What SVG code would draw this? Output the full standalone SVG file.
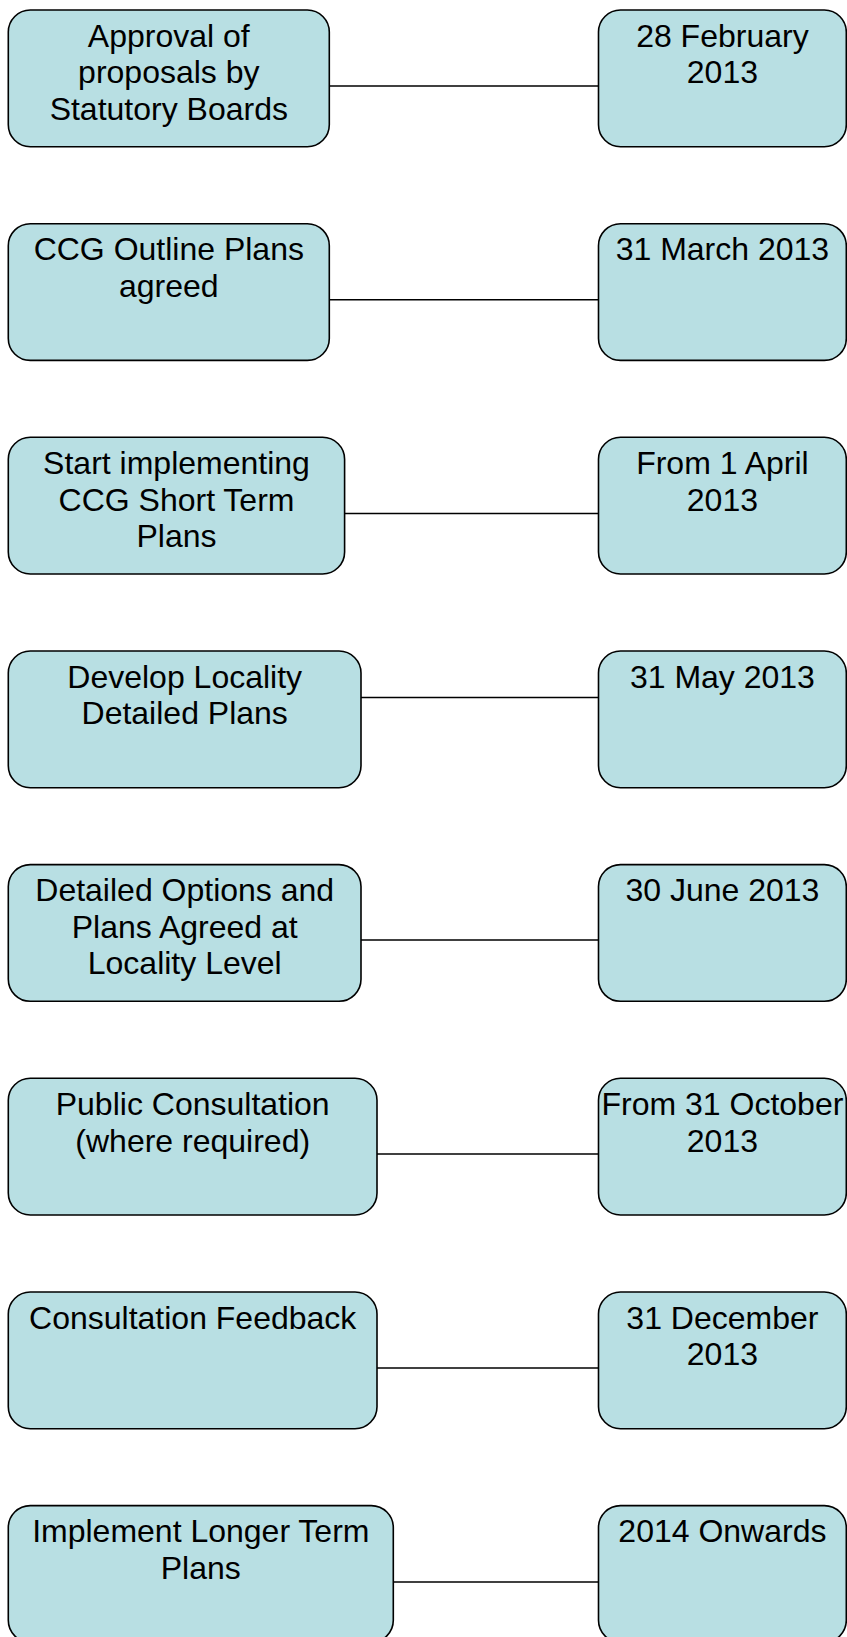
<svg xmlns="http://www.w3.org/2000/svg" width="847" height="1637" viewBox="0 0 847 1637">
<defs>
<style>
.box{fill:#b8dfe3;stroke:#000;stroke-width:1.6}
.t{font-family:"Liberation Sans",Arial,sans-serif;font-size:32px;fill:#000;text-anchor:middle}
.c line{stroke:#000;stroke-width:1.6}
</style>
</defs>
<rect width="847" height="1637" fill="#fff"/>
<g class="c" id="connectors">
<line x1="329.3" y1="86" x2="598.5" y2="86"/>
<line x1="329.3" y1="299.7" x2="598.5" y2="299.7"/>
<line x1="344.6" y1="513.5" x2="598.5" y2="513.5"/>
<line x1="361" y1="697.5" x2="598.5" y2="697.5"/>
<line x1="361" y1="940" x2="598.5" y2="940"/>
<line x1="377" y1="1154" x2="598.5" y2="1154"/>
<line x1="377" y1="1368" x2="598.5" y2="1368"/>
<line x1="393.3" y1="1582" x2="598.5" y2="1582"/>
</g>
<g id="n1"><rect class="box" x="8.3" y="10" width="321" height="136.7" rx="22"/>
<text class="t" x="168.8" y="46.7">Approval of</text><text class="t" x="168.8" y="83.2">proposals by</text><text class="t" x="168.8" y="119.7">Statutory Boards</text></g>
<g id="d1"><rect class="box" x="598.5" y="10" width="247.8" height="136.7" rx="22"/>
<text class="t" x="722.4" y="46.7">28 February</text><text class="t" x="722.4" y="83.2">2013</text></g>
<g id="n2"><rect class="box" x="8.3" y="223.7" width="321" height="136.7" rx="22"/>
<text class="t" x="168.8" y="260.4">CCG Outline Plans</text><text class="t" x="168.8" y="296.9">agreed</text></g>
<g id="d2"><rect class="box" x="598.5" y="223.7" width="247.8" height="136.7" rx="22"/>
<text class="t" x="722.4" y="260.4">31 March 2013</text></g>
<g id="n3"><rect class="box" x="8.3" y="437.3" width="336.3" height="136.7" rx="22"/>
<text class="t" x="176.5" y="474">Start implementing</text><text class="t" x="176.5" y="510.5">CCG Short Term</text><text class="t" x="176.5" y="547">Plans</text></g>
<g id="d3"><rect class="box" x="598.5" y="437.3" width="247.8" height="136.7" rx="22"/>
<text class="t" x="722.4" y="474">From 1 April</text><text class="t" x="722.4" y="510.5">2013</text></g>
<g id="n4"><rect class="box" x="8.3" y="651" width="352.7" height="136.7" rx="22"/>
<text class="t" x="184.7" y="687.7">Develop Locality</text><text class="t" x="184.7" y="724.2">Detailed Plans</text></g>
<g id="d4"><rect class="box" x="598.5" y="651" width="247.8" height="136.7" rx="22"/>
<text class="t" x="722.4" y="687.7">31 May 2013</text></g>
<g id="n5"><rect class="box" x="8.3" y="864.6" width="352.7" height="136.7" rx="22"/>
<text class="t" x="184.7" y="901.3">Detailed Options and</text><text class="t" x="184.7" y="937.8">Plans Agreed at</text><text class="t" x="184.7" y="974.3">Locality Level</text></g>
<g id="d5"><rect class="box" x="598.5" y="864.6" width="247.8" height="136.7" rx="22"/>
<text class="t" x="722.4" y="901.3">30 June 2013</text></g>
<g id="n6"><rect class="box" x="8.3" y="1078.3" width="368.7" height="136.7" rx="22"/>
<text class="t" x="192.7" y="1115">Public Consultation</text><text class="t" x="192.7" y="1151.5">(where required)</text></g>
<g id="d6"><rect class="box" x="598.5" y="1078.3" width="247.8" height="136.7" rx="22"/>
<text class="t" x="722.4" y="1115">From 31 October</text><text class="t" x="722.4" y="1151.5">2013</text></g>
<g id="n7"><rect class="box" x="8.3" y="1292" width="368.7" height="136.7" rx="22"/>
<text class="t" x="192.7" y="1328.7">Consultation Feedback</text></g>
<g id="d7"><rect class="box" x="598.5" y="1292" width="247.8" height="136.7" rx="22"/>
<text class="t" x="722.4" y="1328.7">31 December</text><text class="t" x="722.4" y="1365.2">2013</text></g>
<g id="n8"><rect class="box" x="8.3" y="1505.6" width="385" height="136.7" rx="22"/>
<text class="t" x="200.8" y="1542.3">Implement Longer Term</text><text class="t" x="200.8" y="1578.8">Plans</text></g>
<g id="d8"><rect class="box" x="598.5" y="1505.6" width="247.8" height="136.7" rx="22"/>
<text class="t" x="722.4" y="1542.3">2014 Onwards</text></g>
</svg>
